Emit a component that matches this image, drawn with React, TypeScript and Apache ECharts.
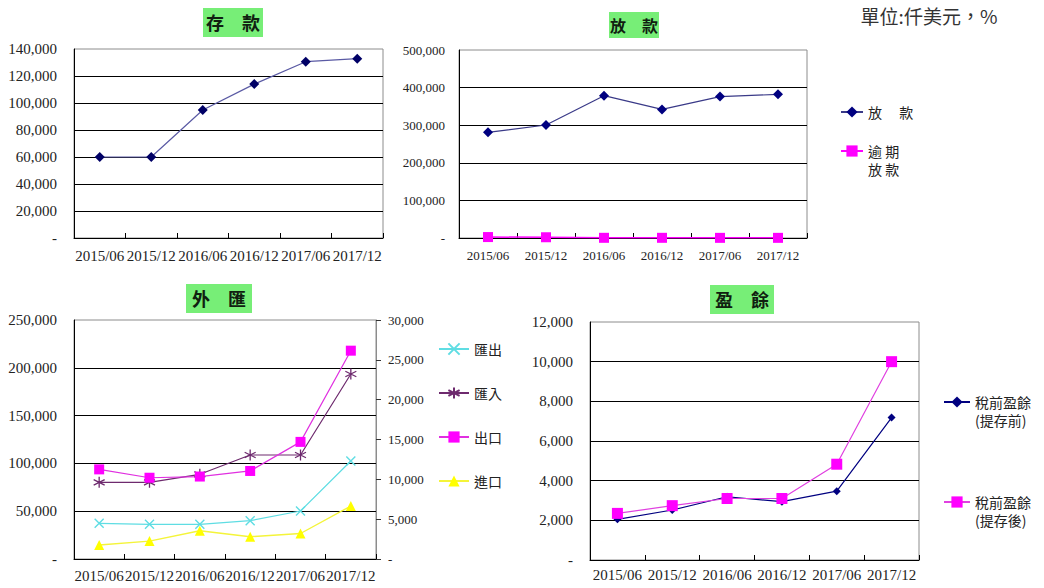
import React, { useEffect, useRef } from 'react';
import * as echarts from 'echarts';

const periods = ['2015/06', '2015/12', '2016/06', '2016/12', '2017/06', '2017/12'];
const deposits = [60000, 60000, 94800, 114000, 130600, 132800];
const loans = [281000, 300500, 378500, 342000, 376000, 382000];
const overdueLoans = [2500, 2000, 500, 500, 400, 400];
const remitOut = [37300, 36300, 36300, 40100, 50200, 102500];
const remitIn = [80200, 80200, 88600, 108800, 108800, 193500];
const exportsFx = [11250, 10200, 10350, 11050, 14700, 26150];
const importsFx = [1750, 2250, 3550, 2800, 3200, 6650];
const profitBefore = [2050, 2520, 3190, 2940, 3470, 7180];
const profitAfter = [2350, 2740, 3100, 3100, 4830, 10000];

const serif = 'Liberation Serif';
const cjk = 'Noto Sans CJK TC';
const fmt = (v: number) => (v === 0 ? '-' : v.toLocaleString('en-US'));
const X_PATH = 'path://M0,0L10,10M10,0L0,10';
const STAR_PATH = 'path://M5,0L5,10M0.67,2.5L9.33,7.5M9.33,2.5L0.67,7.5';

const xAxisOf = (gridIndex: number, fontSize: number, margin: number) => ({
  type: 'category',
  gridIndex,
  data: periods,
  axisLine: { show: true, lineStyle: { color: '#000', width: 1 } },
  axisTick: { show: true, inside: true, length: 5, lineStyle: { color: '#000' } },
  axisLabel: { interval: 0, margin, fontFamily: serif, fontSize, color: '#222' },
  splitLine: { show: false },
});

const yAxisOf = (gridIndex: number, max: number, interval: number, fontSize: number, margin: number) => ({
  type: 'value',
  gridIndex,
  min: 0,
  max,
  interval,
  axisLine: { show: true, lineStyle: { color: '#000', width: 1 } },
  axisTick: { show: false },
  axisLabel: { margin, fontFamily: serif, fontSize, color: '#222', formatter: fmt },
  splitLine: { show: true, showMinLine: false, showMaxLine: false, lineStyle: { color: '#000', width: 1 } },
});

const titleOf = (text: string, left: number, top: number, fontSize: number, padding: number[]) => ({
  text,
  left,
  top,
  padding,
  backgroundColor: '#77ee77',
  textStyle: { fontFamily: cjk, fontSize, fontWeight: 'bold', color: '#102010', lineHeight: fontSize + 2 },
});

const singleText = { fontFamily: cjk, fontSize: 14, color: '#222', lineHeight: 18 };
// a leading empty line keeps the first text line level with the legend icon
const doubleText = { fontFamily: cjk, fontSize: 14, color: '#222', lineHeight: 18, backgroundColor: 'rgba(255,255,255,0)' };

const option: any = {
  animation: false,
  backgroundColor: '#fff',
  title: [
    titleOf('存　款', 203, 8, 18, [4, 3, 5, 3]),
    titleOf('放　款', 609, 12, 16, [4, 1, 4, 1]),
    titleOf('外　匯', 186, 284, 18, [4, 6, 5, 6]),
    titleOf('盈　餘', 710, 285, 18, [4, 5, 5, 5]),
  ],
  graphic: [
    {
      type: 'text',
      x: 929,
      y: 15,
      style: { text: '單位:仟美元，%', font: '19px "Noto Sans CJK TC"', fill: '#333', align: 'center', verticalAlign: 'middle' },
    },
  ],
  grid: [
    { left: 74, top: 49, width: 309, height: 189, show: true, borderColor: '#8c8c8c', borderWidth: 1, backgroundColor: 'transparent' },
    { left: 459, top: 50, width: 348, height: 188, show: true, borderColor: '#8c8c8c', borderWidth: 1, backgroundColor: 'transparent' },
    { left: 74, top: 320, width: 302, height: 239, show: true, borderColor: '#8c8c8c', borderWidth: 1, backgroundColor: 'transparent' },
    { left: 590, top: 322, width: 329, height: 238, show: true, borderColor: '#8c8c8c', borderWidth: 1, backgroundColor: 'transparent' },
  ],
  xAxis: [xAxisOf(0, 15, 10), xAxisOf(1, 13, 11), xAxisOf(2, 15, 9), xAxisOf(3, 15, 7)],
  yAxis: [
    yAxisOf(0, 140000, 20000, 15, 17),
    yAxisOf(1, 500000, 100000, 13, 14),
    yAxisOf(2, 250000, 50000, 15, 17),
    {
      ...yAxisOf(2, 30000, 5000, 13, 12),
      position: 'right',
      axisLine: { show: true, lineStyle: { color: '#8c8c8c' } },
      axisTick: { show: true, inside: false, length: 5, lineStyle: { color: '#333' } },
      splitLine: { show: false },
    },
    yAxisOf(3, 12000, 2000, 15, 17),
  ],
  legend: [
    {
      data: ['放款'], left: 840, top: 103, orient: 'vertical', padding: 0, itemWidth: 22, itemHeight: 14,
      formatter: () => '放　 款', textStyle: singleText,
    },
    {
      data: ['逾期放款'], left: 840, top: 124, orient: 'vertical', padding: 0, itemWidth: 22, itemHeight: 14,
      formatter: () => '\n逾 期\n放 款', textStyle: doubleText,
    },
    {
      data: ['匯出', '匯入', '出口', '進口'], left: 438, top: 341, orient: 'vertical', padding: 0, itemGap: 28,
      itemWidth: 30, itemHeight: 14, textStyle: { ...singleText, lineHeight: 16 },
    },
    {
      data: ['稅前盈餘(提存前)'], left: 943, top: 375, orient: 'vertical', padding: 0, itemWidth: 26, itemHeight: 14,
      formatter: () => '\n稅前盈餘\n(提存前)', textStyle: doubleText,
    },
    {
      data: ['稅前盈餘(提存後)'], left: 943, top: 475, orient: 'vertical', padding: 0, itemWidth: 26, itemHeight: 14,
      formatter: () => '\n稅前盈餘\n(提存後)', textStyle: doubleText,
    },
  ],
  series: [
    {
      name: '存款', type: 'line', xAxisIndex: 0, yAxisIndex: 0, data: deposits,
      symbol: 'diamond', symbolSize: 10, lineStyle: { color: '#5a5aa4', width: 1.2 }, itemStyle: { color: '#000066' },
    },
    {
      name: '放款', type: 'line', xAxisIndex: 1, yAxisIndex: 1, data: loans,
      symbol: 'diamond', symbolSize: 10, lineStyle: { color: '#3a3a88', width: 1.2 }, itemStyle: { color: '#000080' },
    },
    {
      name: '逾期放款', type: 'line', xAxisIndex: 1, yAxisIndex: 1, data: overdueLoans,
      symbol: 'rect', symbolSize: 10, lineStyle: { color: '#ff00ff', width: 1.5 }, itemStyle: { color: '#ff00ff' },
    },
    {
      name: '匯出', type: 'line', xAxisIndex: 2, yAxisIndex: 2, data: remitOut,
      symbol: X_PATH, symbolSize: 9, lineStyle: { color: '#5fdde3', width: 1.2 },
      itemStyle: { color: '#5fdde3', borderColor: '#5fdde3', borderWidth: 1.4 },
    },
    {
      name: '匯入', type: 'line', xAxisIndex: 2, yAxisIndex: 2, data: remitIn,
      symbol: STAR_PATH, symbolSize: 11, lineStyle: { color: '#6e2a6e', width: 1.2 },
      itemStyle: { color: '#6e2a6e', borderColor: '#6e2a6e', borderWidth: 1.3 },
    },
    {
      name: '出口', type: 'line', xAxisIndex: 2, yAxisIndex: 3, data: exportsFx,
      symbol: 'rect', symbolSize: 10, lineStyle: { color: '#e030e0', width: 1.2 }, itemStyle: { color: '#ff00ff' },
    },
    {
      name: '進口', type: 'line', xAxisIndex: 2, yAxisIndex: 3, data: importsFx,
      symbol: 'triangle', symbolSize: 10, lineStyle: { color: '#f4f43a', width: 1.4 }, itemStyle: { color: '#ffff00' },
    },
    {
      name: '稅前盈餘(提存前)', type: 'line', xAxisIndex: 3, yAxisIndex: 4, data: profitBefore,
      symbol: 'diamond', symbolSize: 8, lineStyle: { color: '#000080', width: 1.2 }, itemStyle: { color: '#000080' },
    },
    {
      name: '稅前盈餘(提存後)', type: 'line', xAxisIndex: 3, yAxisIndex: 4, data: profitAfter,
      symbol: 'rect', symbolSize: 11, lineStyle: { color: '#e040e0', width: 1.2 }, itemStyle: { color: '#ff00ff' },
    },
  ],
};

export default function App() {
  const ref = useRef<HTMLDivElement>(null);
  useEffect(() => {
    document.body.style.margin = '0';
    const chart = echarts.init(ref.current as HTMLDivElement, undefined, { renderer: 'svg' });
    chart.setOption(option);
    return () => chart.dispose();
  }, []);
  return <div ref={ref} style={{ width: 1044, height: 588 }} />;
}
